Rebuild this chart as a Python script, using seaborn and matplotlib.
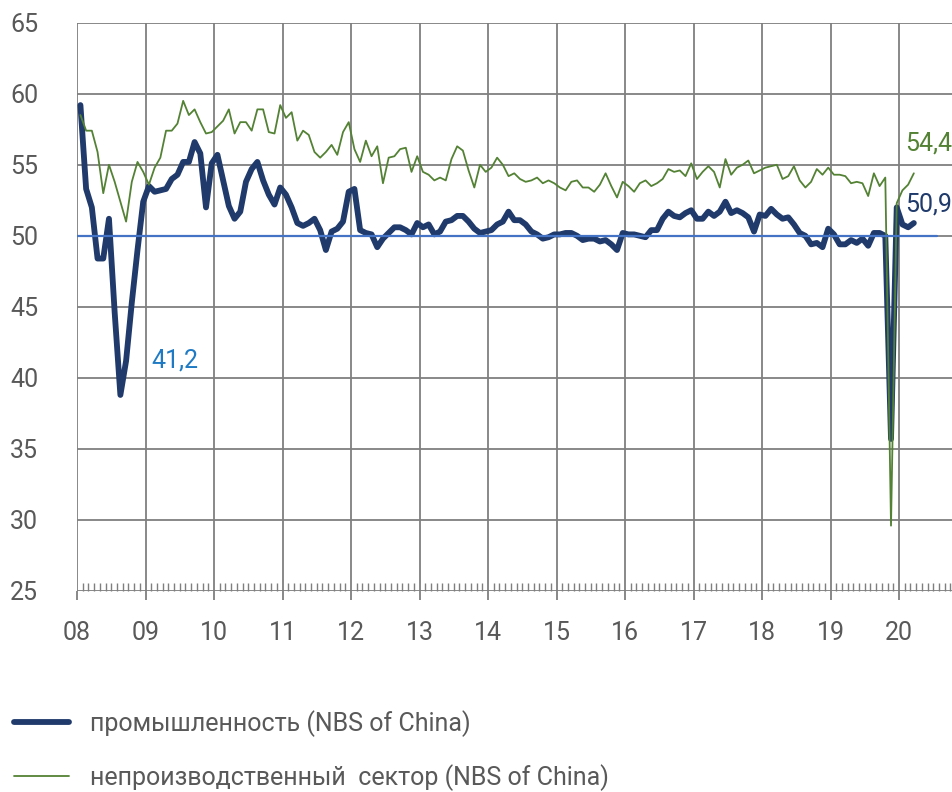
import numpy as np
import pandas as pd
import matplotlib
matplotlib.use("Agg")
import matplotlib.pyplot as plt
import seaborn as sns
from matplotlib.ticker import FixedLocator

sns.set_theme(style="white")
plt.rcParams['font.family'] = ['Roboto', 'DejaVu Sans']

# monthly PMI values (NBS of China), first value is plotted at the "08" tick
year_labels = ['08', '09', '10', '11', '12', '13', '14', '15', '16', '17', '18', '19', '20']
years = list(range(2008, 2021))

manufacturing = [
    59.2, 53.3, 52.0, 48.4, 48.4, 51.2, 44.6, 38.8, 41.2,
    45.3, 49.0, 52.4, 53.5, 53.1, 53.2, 53.3, 54.0, 54.3, 55.2, 55.2, 56.6,
    55.8, 52.0, 55.1, 55.7, 53.9, 52.1, 51.2, 51.7, 53.8, 54.7, 55.2, 53.9,
    52.9, 52.2, 53.4, 52.9, 52.0, 50.9, 50.7, 50.9, 51.2, 50.4, 49.0, 50.3,
    50.5, 51.0, 53.1, 53.3, 50.4, 50.2, 50.1, 49.2, 49.8, 50.2, 50.6, 50.6,
    50.4, 50.1, 50.9, 50.6, 50.8, 50.1, 50.3, 51.0, 51.1, 51.4, 51.4, 51.0,
    50.5, 50.2, 50.3, 50.4, 50.8, 51.0, 51.7, 51.1, 51.1, 50.8, 50.3, 50.1,
    49.8, 49.9, 50.1, 50.1, 50.2, 50.2, 50.0, 49.7, 49.8, 49.8, 49.6, 49.7,
    49.4, 49.0, 50.2, 50.1, 50.1, 50.0, 49.9, 50.4, 50.4, 51.2, 51.7, 51.4,
    51.3, 51.6, 51.8, 51.2, 51.2, 51.7, 51.4, 51.7, 52.4, 51.6, 51.8, 51.6,
    51.3, 50.3, 51.5, 51.4, 51.9, 51.5, 51.2, 51.3, 50.8, 50.2, 50.0, 49.4,
    49.5, 49.2, 50.5, 50.1, 49.4, 49.4, 49.7, 49.5, 49.8, 49.3, 50.2, 50.2,
    50.0, 35.7, 52.0, 50.8, 50.6, 50.9,
]

non_manufacturing = [
    58.5, 57.4, 57.4, 55.9, 53.0, 55.0, 53.8, 52.4, 51.0,
    53.8, 55.2, 54.5, 53.6, 54.8, 55.5, 57.4, 57.4, 57.9, 59.5, 58.5, 58.9,
    58.0, 57.2, 57.3, 57.7, 58.1, 58.9, 57.2, 58.0, 58.0, 57.4, 58.9, 58.9,
    57.3, 57.2, 59.2, 58.3, 58.7, 56.7, 57.4, 57.1, 55.9, 55.5, 55.9, 56.4,
    55.7, 57.3, 58.0, 56.1, 55.2, 56.7, 55.6, 56.3, 53.7, 55.5, 55.6, 56.1,
    56.2, 54.5, 55.6, 54.5, 54.3, 53.9, 54.1, 53.9, 55.4, 56.3, 56.0, 54.6,
    53.4, 55.0, 54.5, 54.8, 55.5, 55.0, 54.2, 54.4, 54.0, 53.8, 53.9, 54.1,
    53.7, 53.9, 53.7, 53.4, 53.2, 53.8, 53.9, 53.4, 53.4, 53.1, 53.6, 54.4,
    53.5, 52.7, 53.8, 53.5, 53.1, 53.7, 53.9, 53.5, 53.7, 54.0, 54.7, 54.5,
    54.6, 54.2, 55.1, 54.0, 54.5, 54.9, 54.5, 53.4, 55.4, 54.3, 54.8, 55.0,
    55.3, 54.4, 54.6, 54.8, 54.9, 55.0, 54.0, 54.2, 54.9, 53.9, 53.4, 53.8,
    54.7, 54.3, 54.8, 54.3, 54.3, 54.2, 53.7, 53.8, 53.7, 52.8, 54.4, 53.5,
    54.1, 29.6, 52.3, 53.2, 53.6, 54.4,
]

label_mfg = 'промышленность (NBS of China)'
label_non = 'непроизводственный  сектор (NBS of China)'
threshold = 50
low_point = 41.2

NAVY = '#1f3a6b'
GREEN = '#548235'
BLUE = '#4472c4'
GRID = '#7f7f7f'
TEXT = '#595959'
FS = 18

months = np.arange(len(manufacturing))
df = pd.DataFrame({
    'x': years[0] + (months + 0.6) / 12,
    'mfg': manufacturing,
    'non_mfg': non_manufacturing,
})

fig = plt.figure(figsize=(9.52, 7.92), dpi=100)
ax = fig.add_axes([77 / 952, 1 - 591 / 792, 1 - 77 / 952, (591 - 22.7) / 792])

sns.lineplot(data=df, x='x', y='mfg', ax=ax, color=NAVY, linewidth=4.2,
             label=label_mfg, solid_capstyle='round', solid_joinstyle='round')
sns.lineplot(data=df, x='x', y='non_mfg', ax=ax, color=GREEN, linewidth=1.3,
             label=label_non)
ax.axhline(threshold, xmin=0, xmax=(937 - 77) / 875, color=BLUE, linewidth=1.6)

ax.set_xlim(2008, 2008 + 875 / 68.5)
ax.set_ylim(25, 65)
ax.set_yticks(range(25, 66, 5))
ax.set_xticks(years)
ax.set_xticklabels(year_labels)
ax.xaxis.set_minor_locator(FixedLocator(np.arange(2008, 2020.78, 1 / 12)))
ax.set_xlabel('')
ax.set_ylabel('')

ax.grid(True, which='major', color=GRID, linewidth=1.3)
for s in ax.spines.values():
    s.set_visible(False)
ax.tick_params(axis='x', which='major', direction='out', length=6.5, width=1.3,
               color=GRID, pad=15, labelsize=FS, labelcolor=TEXT, bottom=True)
ax.tick_params(axis='x', which='minor', direction='in', length=6, width=1,
               color=GRID, bottom=True)
ax.tick_params(axis='y', length=0, pad=28, labelsize=FS, labelcolor=TEXT)

# value labels
ax.text(2009.08, low_point, '41,2', color='#1f7ac4', fontsize=FS, ha='left', va='center')
ax.text(2020.09, non_manufacturing[-1] + 2.1, '54,4', color=GREEN, fontsize=FS,
        ha='left', va='center')
ax.text(2020.09, manufacturing[-1] + 1.3, '50,9', color=NAVY, fontsize=FS,
        ha='left', va='center')

handles, labels = ax.get_legend_handles_labels()
leg = ax.legend(handles, labels, loc='upper left', bbox_to_anchor=(14 / 952, 1 - 710 / 792),
                bbox_transform=fig.transFigure, frameon=False, fontsize=FS,
                handlelength=2.2, handletextpad=0.85, labelspacing=1.1,
                borderpad=0, borderaxespad=0)
for t in leg.get_texts():
    t.set_color(TEXT)

fig.savefig('out.png', dpi=100)
